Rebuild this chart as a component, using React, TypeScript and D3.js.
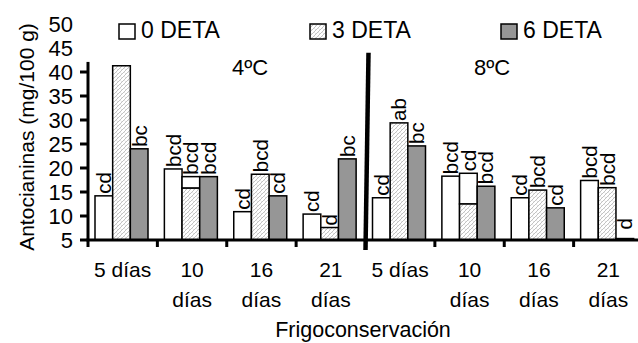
import React, { useEffect, useRef } from 'react';
import * as d3 from 'd3';

const categories = ['4-5', '4-10', '4-16', '4-21', '8-5', '8-10', '8-16', '8-21'];
const tickLines = [['5 días'], ['10', 'días'], ['16', 'días'], ['21', 'días'], ['5 días'], ['10', 'días'], ['16', 'días'], ['21', 'días']];
const series = ['0 DETA', '3 DETA', '6 DETA'];
const deta0 = [14.2, 19.8, 10.9, 10.4, 13.8, 18.3, 13.8, 17.4];
const deta3 = [41.3, 15.8, 18.7, 7.6, 29.4, 12.5, 15.4, 15.9];
const deta6 = [24.0, 18.2, 14.2, 21.9, 24.6, 16.2, 11.7, 5.3];
const labels0 = ['cd', 'bcd', 'cd', 'cd', 'cd', 'bcd', 'cd', 'bcd'];
const labels3 = ['', 'bcd', 'bcd', 'd', 'ab', 'cd', 'bcd', 'bcd'];
const labels6 = ['bc', 'bcd', 'cd', 'bc', 'bc', 'bcd', 'cd', 'd'];
// white label frames seen over some 3 DETA bars
const frame3 = [0, 18.2, 0, 0, 0, 18.9, 0, 0];
const yTicks = [5, 10, 15, 20, 25, 30, 35, 40, 45, 50];
const temps = ['4ºC', '8ºC'];

const FONT = '"Liberation Sans", Arial, sans-serif';

const App = () => {
  const svgRef = useRef<SVGSVGElement>(null);

  useEffect(() => {
    const svg = d3.select(svgRef.current);
    svg.selectAll('*').remove();

    const y = d3.scaleLinear().domain([5, 50]).range([240, 24]);
    const x0 = d3.scaleBand().domain(categories).range([88, 643]);
    const x1 = d3.scaleBand().domain(series).range([7, 60]);

    const defs = svg.append('defs');
    const pat = defs.append('pattern')
      .attr('id', 'hatch')
      .attr('patternUnits', 'userSpaceOnUse')
      .attr('width', 4).attr('height', 4);
    pat.append('rect').attr('width', 4).attr('height', 4).attr('fill', '#fff');
    pat.append('path').attr('d', 'M-1,1 l2,-2 M0,4 l4,-4 M3,5 l2,-2')
      .attr('stroke', '#9a9a9a').attr('stroke-width', 0.6);
    pat.append('path').attr('d', 'M0.5,0.5 l1.2,1.2')
      .attr('stroke', '#b0b0b0').attr('stroke-width', 0.5);

    const fills = ['#fff', 'url(#hatch)', '#969696'];
    const vals = [deta0, deta3, deta6];
    const labs = [labels0, labels3, labels6];

    const g = svg.append('g');

    series.forEach((s, si) => {
      categories.forEach((c, ci) => {
        const bx = x0(c)! + x1(s)!;
        const v = vals[si][ci];
        if (si === 1 && frame3[ci] > 0) {
          g.append('rect')
            .attr('x', bx).attr('y', y(frame3[ci]))
            .attr('width', x1.bandwidth()).attr('height', y(v) - y(frame3[ci]))
            .attr('fill', '#fff').attr('stroke', '#000').attr('stroke-width', 1.5);
        }
        g.append('rect')
          .attr('x', bx).attr('y', y(v))
          .attr('width', x1.bandwidth()).attr('height', 240 - y(v))
          .attr('fill', fills[si]).attr('stroke', '#000').attr('stroke-width', 1.5);
      });
    });

    // letter labels above bars
    series.forEach((s, si) => {
      categories.forEach((c, ci) => {
        const t = labs[si][ci];
        if (!t) return;
        const cx = x0(c)! + x1(s)! + x1.bandwidth() / 2;
        const top = y(Math.max(vals[si][ci], si === 1 ? frame3[ci] : 0)) - 2;
        g.append('text')
          .attr('transform', `translate(${cx},${si === 2 && ci === 7 ? top - 7 : top}) rotate(-90)`)
          .attr('dy', '0.36em')
          .attr('font-size', 20.5)
          .attr('font-family', FONT)
          .text(t);
      });
    });

    // y axis
    const ax = svg.append('g').attr('font-family', FONT);
    ax.append('line').attr('x1', 88).attr('x2', 88).attr('y1', y(42.1)).attr('y2', 241)
      .attr('stroke', '#000').attr('stroke-width', 3);
    yTicks.forEach((t) => {
      if (t <= 40) {
        ax.append('line').attr('x1', 80).attr('x2', 88).attr('y1', y(t)).attr('y2', y(t))
          .attr('stroke', '#000').attr('stroke-width', 3);
      }
      ax.append('text').attr('x', 73).attr('y', y(t)).attr('dy', '0.36em')
        .attr('text-anchor', 'end').attr('font-size', 22).text(t);
    });

    // x axis
    ax.append('line').attr('x1', 86.5).attr('x2', 643).attr('y1', 240).attr('y2', 240)
      .attr('stroke', '#000').attr('stroke-width', 3);
    categories.forEach((c, ci) => {
      const bx = x0(c)!;
      ax.append('line').attr('x1', bx).attr('x2', bx).attr('y1', 240).attr('y2', 247)
        .attr('stroke', '#000').attr('stroke-width', 3);
      tickLines[ci].forEach((ln, li) => {
        ax.append('text').attr('x', bx + x0.bandwidth() / 2).attr('y', 277 + li * 30)
          .attr('text-anchor', 'middle').attr('font-size', 21).text(ln);
      });
    });

    // separator between temperatures
    const sx = x0(categories[4])!;
    svg.append('line').attr('x1', sx + 3).attr('x2', sx).attr('y1', y(44)).attr('y2', 250)
      .attr('stroke', '#000').attr('stroke-width', 4.5);

    temps.forEach((t, i) => {
      svg.append('text').attr('x', i === 0 ? 232 : 474).attr('y', 75)
        .attr('font-family', FONT).attr('font-size', 22).text(t);
    });

    // axis titles
    svg.append('text')
      .attr('transform', 'translate(34,137) rotate(-90)')
      .attr('text-anchor', 'middle').attr('font-family', FONT).attr('font-size', 21)
      .text('Antocianinas (mg/100 g)');
    svg.append('text').attr('x', 363).attr('y', 337)
      .attr('text-anchor', 'middle').attr('font-family', FONT).attr('font-size', 21.5)
      .text('Frigoconservación');

    // legend
    const legX = [119, 310, 501];
    series.forEach((s, si) => {
      const lg = svg.append('g').attr('transform', `translate(${legX[si]},24)`);
      lg.append('rect').attr('width', 16).attr('height', 15)
        .attr('fill', fills[si]).attr('stroke', '#000').attr('stroke-width', 1.5);
      lg.append('text').attr('x', 22).attr('y', 14)
        .attr('font-family', FONT).attr('font-size', 23).text(s);
    });
  }, []);

  return (
    <svg ref={svgRef} width={638} height={343}
      style={{ position: 'absolute', left: 0, top: 0, background: '#fff' }} />
  );
};

export default App;
